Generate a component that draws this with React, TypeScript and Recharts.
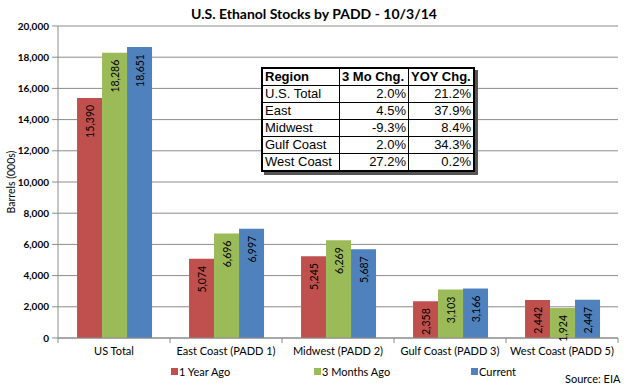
import React from 'react';
import { BarChart, Bar, XAxis, YAxis, CartesianGrid, LabelList } from 'recharts';

const categories = ['US Total', 'East Coast (PADD 1)', 'Midwest (PADD 2)', 'Gulf Coast (PADD 3)', 'West Coast (PADD 5)'];
const yearAgo = [15390, 5074, 5245, 2358, 2442];
const threeMonthsAgo = [18286, 6696, 6269, 3103, 1924];
const current = [18651, 6997, 5687, 3166, 2447];
const seriesNames = ['1 Year Ago', '3 Months Ago', 'Current'];
const seriesColors = ['#C0504D', '#9BBB59', '#4F81BD'];
const yTicks = [0, 2000, 4000, 6000, 8000, 10000, 12000, 14000, 16000, 18000, 20000];

const tableHeaders = ['Region', '3 Mo Chg.', 'YOY Chg.'];
const tableRegions = ['U.S. Total', 'East', 'Midwest', 'Gulf Coast', 'West Coast'];
const threeMoChg = ['2.0%', '4.5%', '-9.3%', '2.0%', '27.2%'];
const yoyChg = ['21.2%', '37.9%', '8.4%', '34.3%', '0.2%'];

const W = 628;
const H = 388;
const MARGIN = { top: 26, right: 10, left: 0, bottom: 0 };
const YAXIS_W = 58;
const XAXIS_H = 50;
const PLOT_W = W - MARGIN.left - MARGIN.right - YAXIS_W;
const BAND = PLOT_W / categories.length;
const AXIS_Y = H - MARGIN.bottom - XAXIS_H;
const FONT = 'Lato, "Open Sans", sans-serif';
const GRID = '#8c8c8c';

const data = categories.map((c, i) => ({
  name: c,
  a: yearAgo[i],
  b: threeMonthsAgo[i],
  c: current[i],
}));

const fmt = (v: number) => v.toLocaleString('en-US');

const BarLabel = (props: any) => {
  const { x, y, width, value } = props;
  const cx = x + width / 2;
  const cy = y + 7;
  return (
    <text
      x={cx}
      y={cy}
      transform={`rotate(-90, ${cx}, ${cy})`}
      textAnchor="end"
      dominantBaseline="central"
      fontSize={10.5}
      fontFamily={FONT}
      fill="#000"
    >
      {fmt(value)}
    </text>
  );
};

const XTick = (props: any) => {
  const { x, payload, index } = props;
  const left = x - BAND / 2;
  const right = x + BAND / 2;
  return (
    <g>
      <line x1={left} y1={AXIS_Y} x2={left} y2={AXIS_Y + 5} stroke={GRID} />
      {index === categories.length - 1 && (
        <line x1={right} y1={AXIS_Y} x2={right} y2={AXIS_Y + 5} stroke={GRID} />
      )}
      <text x={x} y={AXIS_Y + 17} textAnchor="middle" fontSize={11} fontFamily={FONT} fill="#000">
        {payload.value}
      </text>
    </g>
  );
};

const cellStyle: React.CSSProperties = {
  border: '1px solid #000',
  padding: '0 2px',
  height: 16,
  lineHeight: '16px',
  whiteSpace: 'nowrap',
};

export default function App() {
  return (
    <div style={{ position: 'absolute', left: 0, top: 0, width: W, height: H, background: '#fff', fontFamily: FONT }}>
      <div
        style={{
          position: 'absolute',
          left: 0,
          top: 5,
          width: W,
          textAlign: 'center',
          fontWeight: 'bold',
          fontSize: 14,
          fontFamily: FONT,
        }}
      >
        U.S. Ethanol Stocks by PADD - 10/3/14
      </div>
      <BarChart width={W} height={H} data={data} margin={MARGIN} barCategoryGap="17%" barGap={0}>
        <CartesianGrid vertical={false} stroke={GRID} />
        <XAxis
          dataKey="name"
          height={XAXIS_H}
          tickLine={false}
          axisLine={{ stroke: GRID }}
          tick={<XTick />}
          interval={0}
        />
        <YAxis
          width={YAXIS_W}
          domain={[0, 20000]}
          ticks={yTicks}
          tickFormatter={fmt}
          tickLine={{ stroke: GRID }}
          tickSize={6}
          tickMargin={3}
          axisLine={{ stroke: GRID }}
          tick={{ fontSize: 10, fontFamily: FONT, fontWeight: 'bold', fill: '#000' }}
          label={{
            value: 'Barrels (000s)',
            angle: -90,
            position: 'insideLeft',
            offset: 11,
            style: { fontSize: 10.5, fontFamily: FONT, fill: '#000', textAnchor: 'middle' },
          }}
        />
        <Bar dataKey="a" name={seriesNames[0]} fill={seriesColors[0]} isAnimationActive={false}>
          <LabelList dataKey="a" content={<BarLabel />} />
        </Bar>
        <Bar dataKey="b" name={seriesNames[1]} fill={seriesColors[1]} isAnimationActive={false}>
          <LabelList dataKey="b" content={<BarLabel />} />
        </Bar>
        <Bar dataKey="c" name={seriesNames[2]} fill={seriesColors[2]} isAnimationActive={false}>
          <LabelList dataKey="c" content={<BarLabel />} />
        </Bar>
      </BarChart>

      <table
        style={{
          position: 'absolute',
          left: 261,
          top: 67,
          borderCollapse: 'collapse',
          background: '#fff',
          fontFamily: '"Liberation Sans", Arial, sans-serif',
          fontSize: 13,
          boxShadow: '3px 3px 0 #555',
          border: '2px solid #000',
        }}
      >
        <tbody>
          <tr>
            {tableHeaders.map((h, i) => (
              <td key={h} style={{ ...cellStyle, fontWeight: 'bold', width: i === 0 ? 72 : i === 1 ? 64 : 60, textAlign: 'left' }}>
                {h}
              </td>
            ))}
          </tr>
          {tableRegions.map((r, i) => (
            <tr key={r}>
              <td style={{ ...cellStyle, textAlign: 'left' }}>{r}</td>
              <td style={{ ...cellStyle, textAlign: 'right' }}>{threeMoChg[i]}</td>
              <td style={{ ...cellStyle, textAlign: 'right' }}>{yoyChg[i]}</td>
            </tr>
          ))}
        </tbody>
      </table>

      {seriesNames.map((n, i) => (
        <div
          key={n}
          style={{
            position: 'absolute',
            left: [171, 314, 471][i],
            top: 365,
            display: 'flex',
            alignItems: 'center',
            fontSize: 11,
            fontFamily: FONT,
          }}
        >
          <span style={{ display: 'inline-block', width: 7, height: 7, background: seriesColors[i], marginRight: 1 }} />
          <span>{n}</span>
        </div>
      ))}
      <div style={{ position: 'absolute', left: 565, top: 372, fontSize: 11, fontFamily: FONT }}>Source: EIA</div>
    </div>
  );
}
